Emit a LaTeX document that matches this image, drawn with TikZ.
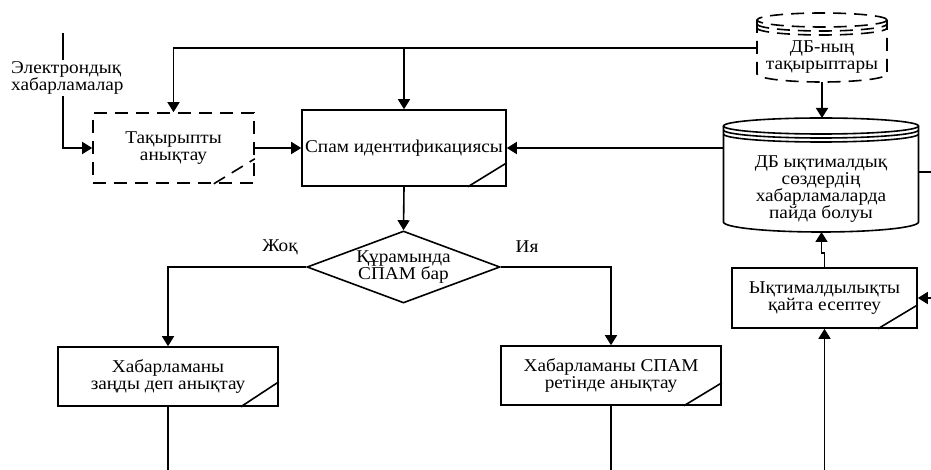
\documentclass[tikz,border=0pt]{standalone}
\usepackage{fontspec}
\setmainfont{Liberation Serif}[FakeStretch=1.07]
\usetikzlibrary{arrows.meta,shapes.geometric,calc}
\newcommand{\corner}[4][]{\draw[ln,#1] ($(#2.south east)+(-#3,0)$) -- ($(#2.south east)+(0,-#4)$);}
\begin{document}
\begin{tikzpicture}[x=1pt,y=-1pt,
  ln/.style={line width=1.6pt},
  arr/.style={line width=1.6pt,-{Triangle[length=10pt,width=12pt]}},
  txt/.style={font=\fontsize{18}{17.5}\selectfont,align=center},
  box/.style={draw,line width=1.6pt,fill=white,inner sep=0pt,txt},
  dsh/.style={dash pattern=on 13pt off 8pt}]
\useasboundingbox (0,0) rectangle (931,470);
\clip (0,0) rectangle (931,470);

% boxes
\node[box,dsh,minimum width=161pt,minimum height=70pt] (topic) at (173.5,148) {Тақырыпты\\анықтау};
\node[box,minimum width=204pt,minimum height=76pt] (spam) at (404,148) {Спам идентификациясы};
\node[box,shape=diamond,aspect=2.68,minimum width=193pt,minimum height=72pt] (dec) at (403.5,267) {Құрамында\\СПАМ бар};
\node[box,minimum width=220pt,minimum height=59pt] (legit) at (168,376.5) {Хабарламаны\\заңды деп анықтау};
\node[box,minimum width=220pt,minimum height=59pt] (spamdef) at (611,375.5) {Хабарламаны СПАМ\\ретінде анықтау};
\node[box,minimum width=185pt,minimum height=60pt] (recalc) at (824.5,298) {Ықтималдылықты\\қайта есептеу};
\corner[dsh]{topic}{41}{25}
\corner{spam}{39}{24}
\corner{legit}{38}{25}
\corner{spamdef}{38}{23}
\corner{recalc}{40}{24}

% labels
\node[txt] (no) at (280,247) {Жоқ};
\node[txt] (yes) at (527,247) {Ия};

% dashed cylinder (topics DB)
\draw[ln,dsh,fill=white] (757,20) -- (757,74) arc[start angle=180,end angle=360,x radius=65pt,y radius=8pt] -- (887,20);
\draw[ln,dsh] (822,20) ellipse[x radius=65pt,y radius=7pt];
\draw[ln,dsh] (757,24) arc[start angle=180,end angle=360,x radius=65pt,y radius=7pt];
\draw[ln,dsh] (757,28) arc[start angle=180,end angle=360,x radius=65pt,y radius=7pt];
\node[txt,font=\fontsize{18}{16.5}\selectfont] (dbt) at (822,57) {ДБ-ның\\тақырыптары};
\coordinate (tW) at (757,48);
\coordinate (tS) at (822,82);

% big cylinder
\draw[ln,fill=white] (723.5,126) -- (723.5,222) arc[start angle=180,end angle=360,x radius=97.5pt,y radius=10pt] -- (918.5,126);
\draw[ln] (821,126) ellipse[x radius=97.5pt,y radius=8pt];
\draw[ln] (723.5,130) arc[start angle=180,end angle=360,x radius=97.5pt,y radius=8pt];
\draw[ln] (723.5,134) arc[start angle=180,end angle=360,x radius=97.5pt,y radius=8pt];
\node[txt,font=\fontsize{18}{17}\selectfont] (db) at (821,189) {ДБ ықтималдық\\сөздердің\\хабарламаларда\\пайда болуы};
\coordinate (dbN) at (822,118);
\coordinate (dbS) at (821.5,232);
\coordinate (dbW) at (723.5,148);
\coordinate (dbE) at (918.5,172);

% input
\coordinate (src) at (63,33);
\draw[arr] (src) |- (topic.west);
\node[txt,font=\fontsize{18}{16}\selectfont,align=left,anchor=west,fill=white,inner sep=1pt] (inp) at (10,78) {Электрондық\\хабарламалар};

% connectors
\draw[arr] (tW) -| (topic.north);
\draw[arr] (spam.north |- tW) -- (spam.north);
\draw[arr] (topic.east) -- (spam.west);
\draw[arr] (dbW) -- (spam.east);
\draw[arr] (tS) -- (tS |- dbN);
\draw[arr] (spam.south) -- (dec.north);
\draw[arr] (dec.west) -| (legit.north);
\draw[arr] (dec.east) -| (spamdef.north);
\coordinate (e1) at (168,480);
\coordinate (e2) at (611,480);
\coordinate (e3) at (824.5,480);
\draw[ln] (legit.south) -- (e1);
\draw[ln] (spamdef.south) -- (e2);
\draw[arr] (e3) -- (recalc.south);
\draw[arr] (recalc.north) -- ++(0,-14) -- ++(-3,0) -- (dbS);
\coordinate (rr) at (945,172);
\draw[arr] (dbE) -- (rr) |- (recalc.east);
\end{tikzpicture}
\end{document}
